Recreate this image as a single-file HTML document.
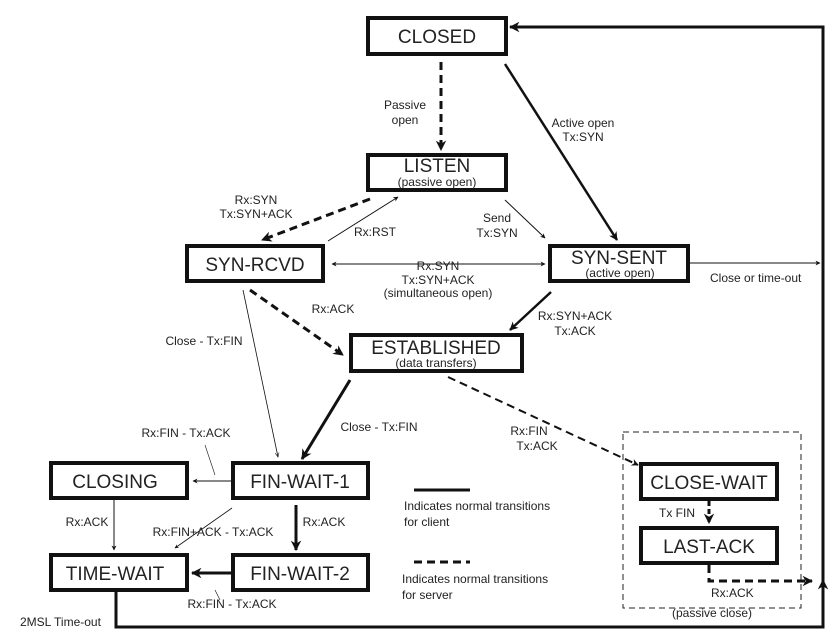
<!DOCTYPE html>
<html><head><style>
html,body{margin:0;padding:0;background:#fff;}
svg{display:block;font-family:"Liberation Sans",Arial,sans-serif;}
.b{fill:#fff;stroke:#111;stroke-width:4;}
.t{font-size:19px;fill:#222;text-anchor:middle;}
.s{font-size:12px;fill:#222;text-anchor:middle;}
.l{font-size:12px;fill:#222;}
</style></head><body>
<svg width="838" height="639" viewBox="0 0 838 639" xmlns="http://www.w3.org/2000/svg">
<defs>
<marker id="a" viewBox="0 0 10 10" refX="9" refY="5" markerWidth="5" markerHeight="5" orient="auto-start-reverse"><path d="M0,0 L10,5 L0,10 L3,5z" fill="#111"/></marker>
<marker id="ab" viewBox="0 0 10 10" refX="9" refY="5" markerWidth="3.5" markerHeight="3.5" orient="auto-start-reverse"><path d="M0,0 L10,5 L0,10 L3,5z" fill="#111"/></marker>
<marker id="ao" viewBox="0 0 10 10" refX="9" refY="5" markerWidth="6" markerHeight="6" orient="auto"><path d="M0,1 L9,5 L0,9" fill="none" stroke="#111" stroke-width="1.2"/></marker>
</defs>

<polyline points="116,591 116,627 823,627 823,27 510,27" fill="none" stroke="#111" stroke-width="3" marker-end="url(#ab)"/>
<line x1="823" y1="600" x2="823" y2="580" stroke="#111" stroke-width="3" marker-end="url(#ab)"/>

<rect x="623" y="432" width="178" height="176" fill="none" stroke="#222" stroke-width="1" stroke-dasharray="6,4"/>

<line x1="441" y1="62" x2="441" y2="150" stroke="#111" stroke-width="3" stroke-dasharray="8,5" marker-end="url(#ab)"/>
<line x1="505" y1="64" x2="617" y2="240" stroke="#111" stroke-width="2.5" marker-end="url(#ab)"/>
<line x1="370" y1="199" x2="262" y2="240" stroke="#111" stroke-width="3" stroke-dasharray="8,5" marker-end="url(#ab)"/>
<line x1="328" y1="241" x2="398" y2="197" stroke="#111" stroke-width="1" marker-end="url(#a)"/>
<line x1="505" y1="200" x2="545" y2="238" stroke="#111" stroke-width="1" marker-end="url(#a)"/>
<line x1="332" y1="264" x2="545" y2="264" stroke="#111" stroke-width="1" marker-start="url(#a)" marker-end="url(#a)"/>
<line x1="690" y1="263" x2="820" y2="263" stroke="#111" stroke-width="1" marker-end="url(#a)"/>
<line x1="551" y1="292" x2="510" y2="330" stroke="#111" stroke-width="2.5" marker-end="url(#ab)"/>
<line x1="250" y1="290" x2="343" y2="355" stroke="#111" stroke-width="3" stroke-dasharray="8,5" marker-end="url(#ab)"/>
<line x1="243" y1="290" x2="278" y2="457" stroke="#111" stroke-width="0.8" marker-end="url(#ao)"/>
<line x1="350" y1="380" x2="302" y2="459" stroke="#111" stroke-width="3" marker-end="url(#ab)"/>
<line x1="448" y1="377" x2="638" y2="465" stroke="#111" stroke-width="2" stroke-dasharray="8,5" marker-end="url(#ab)"/>
<line x1="231" y1="481" x2="193" y2="481" stroke="#111" stroke-width="1" marker-end="url(#a)"/>
<line x1="114" y1="500" x2="114" y2="550" stroke="#111" stroke-width="1" marker-end="url(#a)"/>
<line x1="232" y1="508" x2="175" y2="548" stroke="#111" stroke-width="0.8" marker-end="url(#a)"/>
<line x1="296" y1="505" x2="296" y2="550" stroke="#111" stroke-width="3" marker-end="url(#ab)"/>
<line x1="231" y1="573" x2="192" y2="573" stroke="#111" stroke-width="3" marker-end="url(#ab)"/>
<line x1="709" y1="501" x2="709" y2="523" stroke="#111" stroke-width="3" stroke-dasharray="5,3" marker-end="url(#ab)"/>
<polyline points="709,565 709,581 812,581" fill="none" stroke="#111" stroke-width="3" stroke-dasharray="8,5" marker-end="url(#ab)"/>
<line x1="205" y1="445" x2="215" y2="475" stroke="#111" stroke-width="0.6"/>
<line x1="215" y1="590" x2="220" y2="600" stroke="#111" stroke-width="0.6"/>

<line x1="414" y1="490" x2="470" y2="490" stroke="#111" stroke-width="3"/>
<line x1="414" y1="562" x2="470" y2="562" stroke="#111" stroke-width="3" stroke-dasharray="8,5"/>
<text class="l" x="404" y="510">Indicates normal transitions</text>
<text class="l" x="404" y="526">for client</text>
<text class="l" x="402" y="583">Indicates normal transitions</text>
<text class="l" x="402" y="599">for server</text>

<rect class="b" x="368" y="18" width="138" height="36"/><text class="t" x="437" y="43">CLOSED</text>
<rect class="b" x="368" y="155" width="138" height="35"/><text class="t" x="437" y="172">LISTEN</text><text class="s" x="437" y="186">(passive open)</text>
<rect class="b" x="187" y="246" width="136" height="35"/><text class="t" x="255" y="271">SYN-RCVD</text>
<rect class="b" x="550" y="246" width="138" height="35"/><text class="t" x="619" y="264">SYN-SENT</text><text class="s" x="620" y="277">(active open)</text>
<rect class="b" x="351" y="335" width="171" height="36"/><text class="t" x="436" y="354">ESTABLISHED</text><text class="s" x="436" y="367">(data transfers)</text>
<rect class="b" x="51" y="463" width="136" height="35"/><text class="t" x="115" y="488">CLOSING</text>
<rect class="b" x="233" y="463" width="135" height="35"/><text class="t" x="300" y="488">FIN-WAIT-1</text>
<rect class="b" x="51" y="555" width="136" height="35"/><text class="t" x="115" y="580">TIME-WAIT</text>
<rect class="b" x="233" y="555" width="135" height="35"/><text class="t" x="300" y="580">FIN-WAIT-2</text>
<rect class="b" x="641" y="464" width="136" height="35"/><text class="t" x="709" y="489">CLOSE-WAIT</text>
<rect class="b" x="641" y="528" width="136" height="35"/><text class="t" x="709" y="553">LAST-ACK</text>

<text class="s" x="405" y="109">Passive</text><text class="s" x="405" y="124">open</text>
<text class="s" x="583" y="127">Active open</text><text class="s" x="583" y="141">Tx:SYN</text>
<text class="s" x="256" y="204">Rx:SYN</text><text class="s" x="256" y="218">Tx:SYN+ACK</text>
<text class="s" x="375" y="236">Rx:RST</text>
<text class="s" x="497" y="222">Send</text><text class="s" x="497" y="237">Tx:SYN</text>
<text class="s" x="438" y="270">Rx:SYN</text><text class="s" x="438" y="284">Tx:SYN+ACK</text><text class="s" x="438" y="297">(simultaneous open)</text>
<text class="l" x="710" y="282">Close or time-out</text>
<text class="s" x="333" y="313">Rx:ACK</text>
<text class="s" x="575" y="320">Rx:SYN+ACK</text><text class="s" x="575" y="335">Tx:ACK</text>
<text class="s" x="204" y="345">Close - Tx:FIN</text>
<text class="s" x="379" y="431">Close - Tx:FIN</text>
<text class="s" x="529" y="435">Rx:FIN</text><text class="s" x="537" y="450">Tx:ACK</text>
<text class="s" x="186" y="437">Rx:FIN - Tx:ACK</text>
<text class="s" x="87" y="526">Rx:ACK</text>
<text class="s" x="213" y="536">Rx:FIN+ACK - Tx:ACK</text>
<text class="s" x="324" y="526">Rx:ACK</text>
<text class="s" x="232" y="608">Rx:FIN - Tx:ACK</text>
<text class="l" x="20" y="626">2MSL Time-out</text>
<text class="l" x="659" y="517">Tx FIN</text>
<text class="l" x="711" y="597">Rx:ACK</text>
<text class="s" x="712" y="617">(passive close)</text>
</svg>
</body></html>
